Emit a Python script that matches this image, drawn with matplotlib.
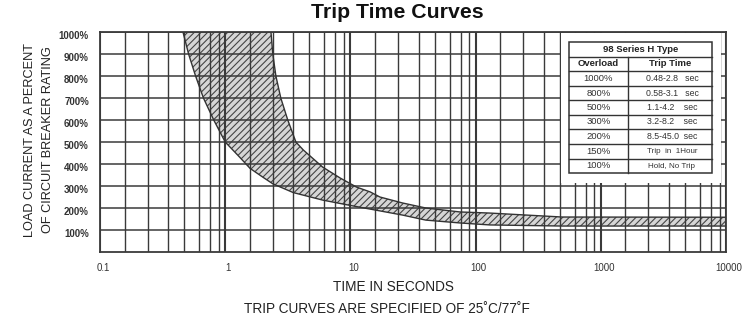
import matplotlib
matplotlib.use("Agg")
import matplotlib.pyplot as plt
import matplotlib.transforms as mtransforms
from matplotlib.patches import Polygon
import numpy as np

# ---------------- data ----------------
fast_t = [0.46, 0.51, 0.58, 0.67, 0.81, 1.0, 1.31, 1.58, 2.0, 2.4, 3.5, 6.0, 9.9, 14.4, 26, 40, 75, 130, 490, 10000]
fast_p = [1000, 900, 800, 700, 600, 500, 430, 380, 340, 310, 270, 236, 212, 195, 168, 145, 132, 123, 118, 118]
slow_t = [2.32, 2.4, 2.54, 2.78, 3.16, 3.67, 4.2, 6.0, 8.3, 11.2, 14.4, 17.2, 26, 40, 75, 130, 490, 10000]
slow_p = [1000, 900, 800, 700, 600, 500, 464, 386, 336, 295, 273, 250, 223, 200, 182, 177, 159, 158]

x_major = [0.1, 1, 10, 100, 1000, 10000]
x_labels = ["0.1", "1", "10", "100", "1000", "10000"]
grid_mult = [1.57, 2.4, 3.5, 4.7, 6.2, 7.6, 8.9]
y_ticks = [100, 200, 300, 400, 500, 600, 700, 800, 900, 1000]
y_labels = [f"{v}%" for v in y_ticks]

table_title = "98 Series H Type"
table_head = ["Overload", "Trip Time"]
table_overload = ["1000%", "800%", "500%", "300%", "200%", "150%", "100%"]
table_trip = ["0.48-2.8   sec", "0.58-3.1   sec", "1.1-4.2    sec", "3.2-8.2    sec",
              "8.5-45.0  sec", "Trip  in  1Hour", "Hold, No Trip"]

FAM = ["Liberation Sans", "DejaVu Sans"]
plt.rcParams["font.family"] = FAM
plt.rcParams["hatch.linewidth"] = 0.8

W, H = 751, 326
fig = plt.figure(figsize=(W / 100, H / 100), dpi=100)
fig.patch.set_facecolor("white")

L, R, T, B = 100, 726, 32, 252
ax = fig.add_axes([L / W, (H - B) / H, (R - L) / W, (B - T) / H])
ax.set_xscale("log")
ax.set_xlim(0.1, 10000)
ax.set_ylim(0, 1000)

gc = "#3a3a3a"
for d in x_major:
    ax.axvline(d, color=gc, lw=1.5, zorder=3)
for d in x_major[:-1]:
    for m in grid_mult:
        ax.axvline(d * m, color=gc, lw=1.0, zorder=3)
for v in y_ticks:
    ax.axhline(v, color=gc, lw=1.1, zorder=3)

poly_x = list(fast_t) + list(slow_t[::-1])
poly_y = list(fast_p) + list(slow_p[::-1])
band = Polygon(np.column_stack([poly_x, poly_y]), closed=True,
               facecolor="#d6d6d6", edgecolor="#454545", hatch="/////", lw=0, zorder=2)
ax.add_patch(band)
ax.plot(fast_t, fast_p, color="#333333", lw=1.0, zorder=4)
ax.plot(slow_t, slow_p, color="#333333", lw=1.0, zorder=4)

for s in ax.spines.values():
    s.set_color(gc)
    s.set_linewidth(1.3)
    s.set_zorder(5)

ax.set_xticks(x_major)
ax.set_xticklabels(x_labels)
ax.xaxis.set_minor_locator(matplotlib.ticker.NullLocator())
ax.set_yticks(y_ticks)
ax.set_yticklabels(y_labels)
ax.tick_params(axis="both", length=0, colors="#333333")
ax.tick_params(axis="x", pad=8, labelsize=7)
ax.tick_params(axis="y", pad=8, labelsize=7)
for lab in ax.get_yticklabels():
    lab.set_fontweight("bold")
    lab.set_transform(lab.get_transform() + mtransforms.ScaledTranslation(0, -3 / 100, fig.dpi_scale_trans))
for lab in ax.get_xticklabels():
    lab.set_transform(lab.get_transform() + mtransforms.ScaledTranslation(3 / 100, 0, fig.dpi_scale_trans))

fig.text(397 / W, (H - 13) / H, "Trip Time Curves", ha="center", va="center",
         fontsize=15.3, fontweight="bold", color="#111111")
fig.text(39 / W, (H - 140) / H, "LOAD CURRENT AS A PERCENT\nOF CIRCUIT BREAKER RATING",
         rotation=90, ha="center", va="center", fontsize=9.2, color="#222222", linespacing=1.75)
fig.text(393 / W, (H - 287) / H, "TIME IN SECONDS", ha="center", va="center",
         fontsize=9.8, color="#222222")
fig.text(387 / W, (H - 309) / H, "TRIP CURVES ARE SPECIFIED OF 25˚C/77˚F", ha="center", va="center",
         fontsize=9.8, color="#222222")

tx0, tx1, ty0, ty1 = 561, 721, 32.7, 183
tab = fig.add_axes([tx0 / W, (H - ty1) / H, (tx1 - tx0) / W, (ty1 - ty0) / H], zorder=10)
tab.set_facecolor("white")
tab.set_xlim(tx0, tx1)
tab.set_ylim(ty1, ty0)
tab.axis("off")
tab.add_patch(plt.Rectangle((tx0, ty0), tx1 - tx0, ty1 - ty0, facecolor="white", edgecolor="none"))
rows = [42, 57, 71, 86, 100, 115, 129, 144, 159, 173]
bx0, bx1, bdiv = 569, 712, 628
tc = "#333333"
tab.add_patch(plt.Rectangle((bx0, rows[0]), bx1 - bx0, rows[-1] - rows[0], facecolor="none",
                            edgecolor=tc, lw=1.1))
for r in rows[1:-1]:
    tab.plot([bx0, bx1], [r, r], color=tc, lw=1.0)
tab.plot([bdiv, bdiv], [rows[1], rows[-1]], color=tc, lw=1.0)

def mid(i):
    return (rows[i] + rows[i + 1]) / 2

tab.text((bx0 + bx1) / 2, mid(0), table_title, ha="center", va="center", fontsize=6.8,
         fontweight="bold", color="#222222")
tab.text((bx0 + bdiv) / 2, mid(1), table_head[0], ha="center", va="center", fontsize=6.8,
         fontweight="bold", color="#222222")
tab.text((bdiv + bx1) / 2, mid(1), table_head[1], ha="center", va="center", fontsize=6.8,
         fontweight="bold", color="#222222")
for i, (a, b) in enumerate(zip(table_overload, table_trip)):
    tab.text((bx0 + bdiv) / 2, mid(i + 2), a, ha="center", va="center", fontsize=6.8, color="#333333")
    tab.text((bdiv + bx1) / 2 + 2, mid(i + 2), b, ha="center", va="center",
             fontsize=6.3 if i < 5 else 5.8, color="#333333")

fig.savefig("out.png", dpi=100, facecolor="white")
